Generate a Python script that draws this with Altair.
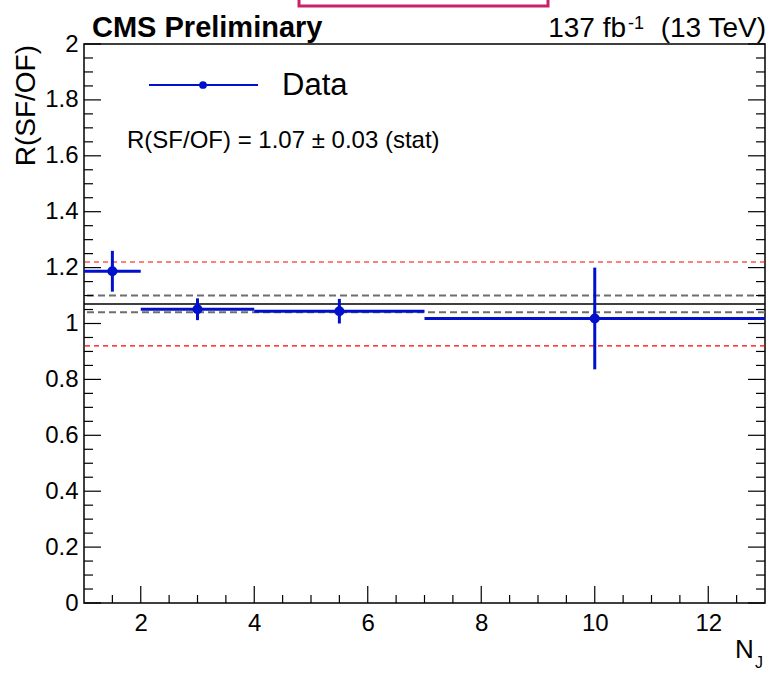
import altair as alt
import pandas as pd

# ---- data ----
bin_lo = [1, 2, 4, 7]
bin_hi = [2, 4, 7, 13]
bin_center = [1.5, 3, 5.5, 10]
ratio = [1.187, 1.051, 1.044, 1.018]
stat_err = [0.073, 0.039, 0.044, 0.182]

fit_central = [1.07]
fit_stat_band = [1.04, 1.10]
syst_band = [0.92, 1.22]

x_labels = [2, 4, 6, 8, 10, 12]
x_minor = [1.5, 2.5, 3, 3.5, 4.5, 5, 5.5, 6.5, 7, 7.5, 8.5, 9, 9.5, 10.5, 11, 11.5, 12.5]
y_labels = [0, 0.2, 0.4, 0.6, 0.8, 1.0, 1.2, 1.4, 1.6, 1.8, 2.0]
y_minor = [0.05, 0.1, 0.15, 0.25, 0.3, 0.35, 0.45, 0.5, 0.55, 0.65, 0.7, 0.75,
           0.85, 0.9, 0.95, 1.05, 1.1, 1.15, 1.25, 1.3, 1.35, 1.45, 1.5, 1.55,
           1.65, 1.7, 1.75, 1.85, 1.9, 1.95]

header_left = "CMS Preliminary"
header_right_a = "137 fb"
header_right_sup = "-1"
header_right_b = "(13 TeV)"
y_title = "R(SF/OF)"
x_title = "N"
x_title_sub = "J"
legend_label = "Data"
fit_text = "R(SF/OF) = 1.07 ± 0.03 (stat)"

FONT = "Liberation Sans"
BLUE = "#0010cc"
W, H = 681, 559

df = pd.DataFrame({"lo": bin_lo, "hi": bin_hi, "c": bin_center, "r": ratio, "e": stat_err})
df["down"] = df["r"] - df["e"]
df["up"] = df["r"] + df["e"]

xscale = alt.Scale(domain=[1, 13], nice=False, zero=False)
yscale = alt.Scale(domain=[0, 2], nice=False, zero=False)
XAXIS = alt.Axis(values=x_labels, labelPadding=8, title=None, labelFont=FONT,
                 labelFontSize=24, labelColor="black", tickSize=0, domain=False, grid=False)
YAXIS = alt.Axis(values=y_labels, labelPadding=6, title=None, labelFont=FONT,
                 labelFontSize=24, labelColor="black", tickSize=0, domain=False, grid=False,
                 labelExpr="format(datum.value, '.1~f')")


def X(f):
    return alt.X(f, type="quantitative", scale=xscale, axis=XAXIS, title=None)


def Y(f):
    return alt.Y(f, type="quantitative", scale=yscale, axis=YAXIS, title=None)


# reference lines
red = alt.Chart(pd.DataFrame({"v": syst_band})).mark_rule(
    color="#ff0000", strokeWidth=1.2, strokeDash=[5, 4]).encode(y=Y("v"))
gray = alt.Chart(pd.DataFrame({"v": fit_stat_band})).mark_rule(
    color="#6e6e6e", strokeWidth=2, strokeDash=[7, 4]).encode(y=Y("v"))
black = alt.Chart(pd.DataFrame({"v": fit_central})).mark_rule(
    color="black", strokeWidth=1.5).encode(y=Y("v"))

base = alt.Chart(df)
hbars = base.mark_rule(color=BLUE, strokeWidth=3).encode(x=X("lo"), x2="hi", y=Y("r"))
vbars = base.mark_rule(color=BLUE, strokeWidth=3).encode(x=X("c"), y=Y("down"), y2="up")
dots = base.mark_circle(color=BLUE, opacity=1, size=100).encode(x=X("c"), y=Y("r"))

# inward ticks (ROOT style)
xmaj = alt.Chart(pd.DataFrame({"v": x_labels})).mark_rule(color="black", strokeWidth=1.2).encode(
    x=X("v"), y=alt.value(H), y2=alt.value(H - 17))
xmin = alt.Chart(pd.DataFrame({"v": x_minor})).mark_rule(color="black", strokeWidth=1.2).encode(
    x=X("v"), y=alt.value(H), y2=alt.value(H - 8))
ymajL = alt.Chart(pd.DataFrame({"v": y_labels})).mark_rule(color="black", strokeWidth=1.2).encode(
    y=Y("v"), x=alt.value(0), x2=alt.value(17))
yminL = alt.Chart(pd.DataFrame({"v": y_minor})).mark_rule(color="black", strokeWidth=1.2).encode(
    y=Y("v"), x=alt.value(0), x2=alt.value(9))
ymajR = alt.Chart(pd.DataFrame({"v": y_labels})).mark_rule(color="black", strokeWidth=1.2).encode(
    y=Y("v"), x=alt.value(W), x2=alt.value(W - 17))
yminR = alt.Chart(pd.DataFrame({"v": y_minor})).mark_rule(color="black", strokeWidth=1.2).encode(
    y=Y("v"), x=alt.value(W), x2=alt.value(W - 9))

one = pd.DataFrame({"a": [0]})


def label(text, x, y, size, align="left", baseline="alphabetic", weight="normal", angle=0):
    kw = dict(text=text, font=FONT, fontSize=size, align=align, baseline=baseline,
              fontWeight=weight, color="black")
    if angle:
        kw["angle"] = angle
    return alt.Chart(one).mark_text(**kw).encode(x=alt.value(x), y=alt.value(y))


texts = [
    label(header_left, 8, -7, 29, weight="bold"),
    label(header_right_a, 542, -7, 28, align="right"),
    label(header_right_sup, 544, -15, 18),
    label(header_right_b, 682, -7, 28, align="right"),
    label(y_title, -49, 1, 28, align="right", angle=270),
    label(x_title, 651, 614, 26),
    label(x_title_sub, 671, 624, 16),
    label(legend_label, 198, 42, 31, baseline="middle"),
    label(fit_text, 43, 104, 24),
]

leg_line = alt.Chart(one).mark_rule(color=BLUE, strokeWidth=2).encode(
    x=alt.value(65), x2=alt.value(174), y=alt.value(41))
leg_dot = alt.Chart(one).mark_circle(color=BLUE, opacity=1, size=60).encode(
    x=alt.value(119), y=alt.value(41))

pink = alt.Chart(one).mark_rect(fill=None, fillOpacity=0, stroke="#c8236a", strokeWidth=3).encode(
    x=alt.value(215), x2=alt.value(464), y=alt.value(-80), y2=alt.value(-38))

chart = alt.layer(
    red, gray, black, hbars, vbars, dots,
    xmaj, xmin, ymajL, yminL, ymajR, yminR,
    leg_line, leg_dot, pink, *texts,
).properties(
    width=W, height=H,
    autosize=alt.AutoSizeParams(type="none"),
    padding={"left": 84, "top": 44, "right": 15, "bottom": 73},
    background="white",
).configure_view(
    stroke="black", strokeWidth=1.5
)

chart.save("out.html", embed_options={"renderer": "svg", "actions": False})
